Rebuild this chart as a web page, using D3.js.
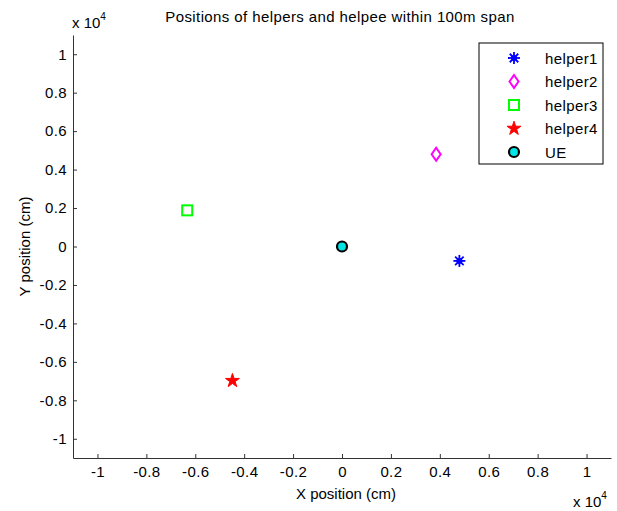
<!doctype html>
<html lang="en">
<head>
  <meta charset="utf-8">
  <title>helpers</title>
  <script src="https://cdn.jsdelivr.net/npm/d3@7"></script>
  <style>
    body { margin: 0; background: #fff; }
    text { font-family: "Liberation Sans", Arial, sans-serif; fill: #000; }
  </style>
</head>
<body>
<svg id="chart" width="617" height="511"></svg>
<script>
// data (cm)
var names = ["helper1", "helper2", "helper3", "helper4", "UE"];
var xs = [4800, 3850, -6330, -4480, 0];
var ys = [-750, 4800, 1880, -6980, 0];
var xTicks = [-1, -0.8, -0.6, -0.4, -0.2, 0, 0.2, 0.4, 0.6, 0.8, 1];
var yTicks = [-1, -0.8, -0.6, -0.4, -0.2, 0, 0.2, 0.4, 0.6, 0.8, 1];

var svg = d3.select("#chart");
var pLeft = 73, pRight = 611, pTop = 35, pBottom = 458;
var fs = "15px";

var x = d3.scaleLinear().domain([-11000, 11000]).range([pLeft, pRight]);
var y = d3.scaleLinear().domain([-11000, 11000]).range([pBottom, pTop]);

function fmt(d) { return String(+(d / 10000).toFixed(1)); }

// axes, ticks pointing inward like matlab
var xAxis = d3.axisBottom(x).tickValues(xTicks.map(function(d){ return d * 10000; }))
  .tickFormat(fmt).tickSizeInner(-4).tickSizeOuter(0).tickPadding(8);
var yAxis = d3.axisLeft(y).tickValues(yTicks.map(function(d){ return d * 10000; }))
  .tickFormat(fmt).tickSizeInner(-4).tickSizeOuter(0).tickPadding(6);

var gx = svg.append("g").attr("transform", "translate(0," + pBottom + ")").call(xAxis);
var gy = svg.append("g").attr("transform", "translate(" + pLeft + ",0)").call(yAxis);
[gx, gy].forEach(function(g){
  g.selectAll("path,line").attr("stroke", "#333").attr("stroke-width", 1);
  g.selectAll("text").style("font-size", fs).style("font-family", "Liberation Sans, Arial, sans-serif")
    .style("letter-spacing", "0.4px").attr("fill", "#000");
});

// exponent labels
var e1 = svg.append("text").attr("x", 72).attr("y", 28).style("font-size", fs);
e1.append("tspan").text("x 10");
e1.append("tspan").attr("dy", -8).style("font-size", "10px").text("4");
var e2 = svg.append("text").attr("x", 573).attr("y", 507).style("font-size", fs);
e2.append("tspan").text("x 10");
e2.append("tspan").attr("dy", -8).style("font-size", "10px").text("4");

// title and axis labels
svg.append("text").attr("x", 340).attr("y", 22).attr("text-anchor", "middle")
  .style("font-size", fs).style("letter-spacing", "0.4px")
  .text("Positions of helpers and helpee within 100m span");
svg.append("text").attr("x", 346).attr("y", 499).attr("text-anchor", "middle")
  .style("font-size", fs).text("X position (cm)");
svg.append("text").attr("transform", "translate(30," + ((pTop + pBottom) / 2) + ") rotate(-90)")
  .attr("text-anchor", "middle").style("font-size", fs).text("Y position (cm)");

// markers
function drawMarker(g, i) {
  if (i === 0) { // asterisk
    var a = g.append("g").attr("stroke", "#0000ff").attr("stroke-width", 1.8);
    for (var k = 0; k < 4; k++) {
      var ang = k * Math.PI / 4, r = 6;
      a.append("line").attr("x1", -r * Math.cos(ang)).attr("y1", -r * Math.sin(ang))
        .attr("x2", r * Math.cos(ang)).attr("y2", r * Math.sin(ang));
    }
    a.append("circle").attr("r", 3).attr("fill", "#0000ff").attr("stroke", "none");
  } else if (i === 1) { // diamond
    g.append("path").attr("d", "M0,-6.5L4.5,0L0,6.5L-4.5,0Z").attr("fill", "none")
      .attr("stroke", "#ff00ff").attr("stroke-width", 2);
  } else if (i === 2) { // square
    g.append("rect").attr("x", -5).attr("y", -5).attr("width", 10).attr("height", 10)
      .attr("fill", "none").attr("stroke", "#00ff00").attr("stroke-width", 2);
  } else if (i === 3) { // star
    g.append("path").attr("d", d3.symbol(d3.symbolStar, 60)()).attr("fill", "#ff0000")
      .attr("stroke", "#ff0000").attr("stroke-width", 1);
  } else { // UE
    g.append("circle").attr("r", 5).attr("fill", "#00e5e5")
      .attr("stroke", "#000").attr("stroke-width", 2.2);
  }
}

names.forEach(function(n, i) {
  var g = svg.append("g").attr("transform", "translate(" + x(xs[i]) + "," + y(ys[i]) + ")");
  drawMarker(g, i);
});

// legend
var lg = svg.append("g").attr("transform", "translate(479,43)");
lg.append("rect").attr("x", 0).attr("y", 0).attr("width", 124).attr("height", 121)
  .attr("fill", "#fff").attr("stroke", "#000").attr("stroke-width", 1);
names.forEach(function(n, i) {
  var yy = 15 + i * 23.5;
  drawMarker(lg.append("g").attr("transform", "translate(35," + yy + ")"), i);
  lg.append("text").attr("x", 66).attr("y", yy + 5.5).style("font-size", fs)
    .style("letter-spacing", "0.4px").text(n);
});
</script>
</body>
</html>
